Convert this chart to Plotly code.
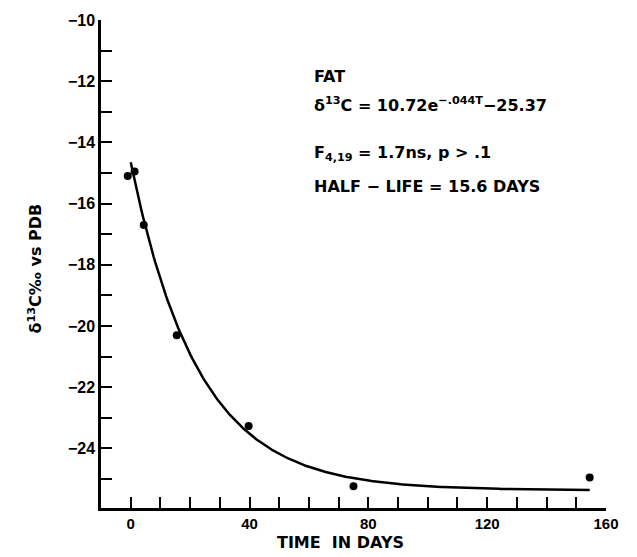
import numpy as np
import plotly.graph_objects as go

# Measured delta-13C of fat over time
days = [-1.0, 1.3, 4.4, 15.5, 39.7, 75.0, 154.5]
delta13c = [-15.1, -14.95, -16.7, -20.3, -23.27, -25.24, -24.95]

# Fitted exponential: d13C = A * exp(-k T) + C
fit_a = 10.72
fit_k = 0.044
fit_c = -25.37
fit_t = np.linspace(0.0, 154.5, 300)
fit_y = fit_a * np.exp(-fit_k * fit_t) + fit_c

y_major = [-10, -12, -14, -16, -18, -20, -22, -24]
x_major = [0, 40, 80, 120, 160]

FONT = "Liberation Sans"
WIDE = "DejaVu Sans"

fig = go.Figure()
fig.add_trace(go.Scatter(x=fit_t, y=fit_y, mode="lines",
                         line=dict(color="black", width=2.5), hoverinfo="skip"))
fig.add_trace(go.Scatter(x=days, y=delta13c, mode="markers",
                         marker=dict(color="black", size=8)))

fig.update_layout(
    width=637, height=557,
    margin=dict(l=101, r=31, t=15, b=49),
    paper_bgcolor="white", plot_bgcolor="white",
    showlegend=False,
    font=dict(family=FONT, color="black"),
)

fig.update_xaxes(
    range=[-10, 160], showgrid=False, zeroline=False,
    showline=True, linecolor="black", linewidth=2.5,
    tickvals=x_major, ticktext=[str(v) for v in x_major],
    ticks="inside", ticklen=11, tickwidth=1.5, tickcolor="black",
    minor=dict(dtick=10, tick0=0, ticks="inside", ticklen=11, tickwidth=1.5, tickcolor="black"),
    tickfont=dict(size=15, family=FONT, weight="bold"),
)
fig.update_yaxes(
    range=[-25.95, -10], showgrid=False, zeroline=False,
    showline=True, linecolor="black", linewidth=2.5,
    tickvals=y_major, ticktext=["\u2212" + str(abs(v)) for v in y_major],
    ticks="inside", ticklen=11, tickwidth=1.5, tickcolor="black",
    minor=dict(dtick=1, tick0=-10, ticks="inside", ticklen=11, tickwidth=1.5, tickcolor="black"),
    tickfont=dict(size=16, family=FONT, weight="bold"),
)

lab_font = dict(size=16, family=WIDE, color="black", weight="bold")
notes = [
    (72, "FAT"),
    (100, "\u03b4<sup>13</sup>C = 10.72e<sup>\u2212.044T</sup>\u221225.37"),
    (150, "F<sub>4,19</sub> = 1.7ns, p > .1"),
    (183, "HALF \u2212 LIFE = 15.6 DAYS"),
]
for ypix, txt in notes:
    fig.add_annotation(text=txt, xref="paper", yref="paper",
                       x=(312 - 101) / 505, y=1 - (ypix - 15) / 493,
                       xanchor="left", yanchor="middle", showarrow=False,
                       font=lab_font)

fig.add_annotation(text="TIME  IN DAYS", xref="paper", yref="paper",
                   x=(340 - 101) / 505, y=1 - (543 - 15) / 493,
                   xanchor="center", yanchor="middle", showarrow=False,
                   font=lab_font)
fig.add_annotation(text="\u03b4<sup>13</sup>C\u2030 vs PDB", xref="paper", yref="paper",
                   x=-(101 - 35) / 505, y=1 - (266 - 15) / 493,
                   xanchor="center", yanchor="middle", showarrow=False,
                   textangle=-90, font=lab_font)

fig.write_html("out.html")
